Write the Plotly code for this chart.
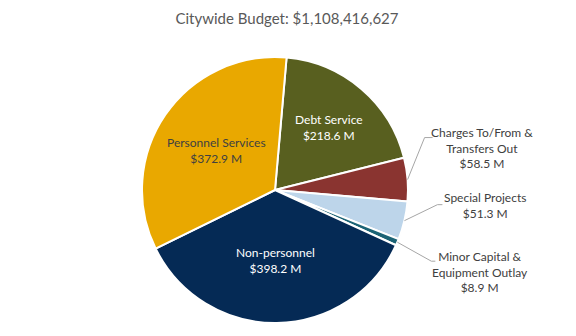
import math
import plotly.graph_objects as go

# Budget categories (millions of dollars), in drawing order clockwise from the top
categories = [
    "Debt Service",
    "Charges To/From & Transfers Out",
    "Special Projects",
    "Minor Capital & Equipment Outlay",
    "Non-personnel",
    "Personnel Services",
]
values = [218.6, 58.5, 51.3, 8.9, 398.2, 372.9]
label_lines = [
    ["Debt Service"],
    ["Charges To/From &", "Transfers Out"],
    ["Special Projects"],
    ["Minor Capital &", "Equipment Outlay"],
    ["Non-personnel"],
    ["Personnel Services"],
]
colors = ["#585F1F", "#8A3430", "#BDD5EA", "#1B6375", "#052A55", "#E9A800"]
title_text = "Citywide Budget: $1,108,416,627"

# Canvas geometry (pixels)
W, H = 576, 336
CX, CY, R = 275, 190, 133
ROTATION = 5
FONT = "Lato"

def px(x):
    return x / W

def py(y):
    return 1 - y / H

fig = go.Figure(
    go.Pie(
        labels=categories,
        values=values,
        sort=False,
        direction="clockwise",
        rotation=ROTATION,
        marker=dict(colors=colors, line=dict(color="white", width=2)),
        textinfo="none",
        hoverinfo="label+value",
        domain=dict(x=[px(CX - R), px(CX + R)], y=[py(CY + R), py(CY - R)]),
        showlegend=False,
    )
)

total = sum(values)
mid_angles = []
cum = 0.0
for v in values:
    mid_angles.append(ROTATION + 360 * (cum + v / 2) / total)
    cum += v

def polar(angle_deg, radius):
    a = math.radians(angle_deg)
    return CX + radius * math.sin(a), CY - radius * math.cos(a)

# Label styles: inside (radius fraction, colour) or outside (text offset, elbow, end)
inside = {
    0: (0.62, "white"),
    4: (0.53, "white"),
    5: (0.53, "#404040"),
}
outside = {
    1: dict(text=(74, -32), elbow=(17, -42), end=(25, -42)),
    2: dict(text=(81, -15), elbow=(33, -16), end=(38, -16)),
    3: dict(text=(83, 30), elbow=(34, 19), end=(38, 19)),
}

annotations = []
shapes = []
for i, v in enumerate(values):
    text = "<br>".join(label_lines[i] + [f"${v:.1f} M"])
    if i in inside:
        frac, col = inside[i]
        x, y = polar(mid_angles[i], R * frac)
        annotations.append(dict(
            x=px(x), y=py(y), xref="paper", yref="paper", text=text,
            showarrow=False, xanchor="center", yanchor="middle",
            font=dict(family=FONT, size=12, color=col),
        ))
    else:
        st = outside[i]
        ax, ay = polar(mid_angles[i], R)
        tx, ty = ax + st["text"][0], ay + st["text"][1]
        annotations.append(dict(
            x=px(tx), y=py(ty), xref="paper", yref="paper", text=text,
            showarrow=False, xanchor="center", yanchor="middle",
            font=dict(family=FONT, size=12, color="#404040"),
        ))
        ex, ey = ax + st["elbow"][0], ay + st["elbow"][1]
        nx, ny = ax + st["end"][0], ay + st["end"][1]
        path = (f"M {px(ax)} {py(ay)} L {px(ex)} {py(ey)} L {px(nx)} {py(ny)}")
        shapes.append(dict(type="path", path=path, xref="paper", yref="paper",
                           line=dict(color="#A6A6A6", width=1)))

fig.update_layout(
    width=W, height=H,
    margin=dict(l=0, r=0, t=0, b=0),
    paper_bgcolor="white", plot_bgcolor="white",
    title=dict(text=title_text, x=px(287), y=py(19), xanchor="center",
               yanchor="middle", xref="paper", yref="paper",
               font=dict(family=FONT, size=15, color="#595959")),
    annotations=annotations,
    shapes=shapes,
)

fig.write_html("out.html")
